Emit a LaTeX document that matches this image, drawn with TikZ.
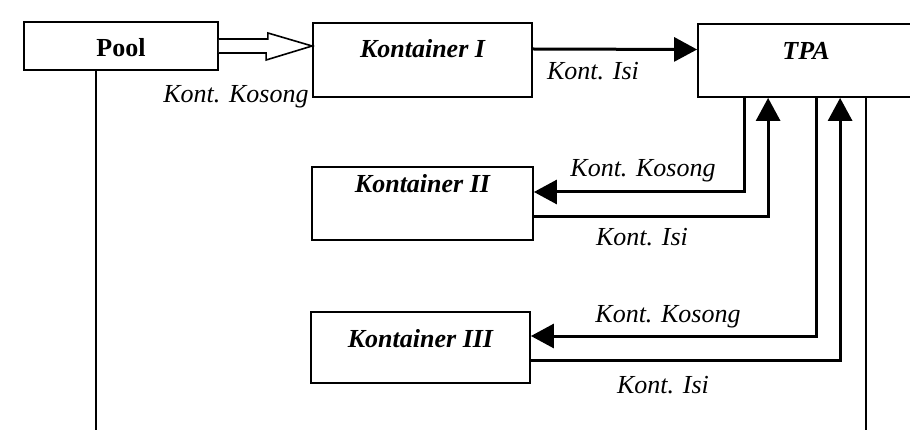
\documentclass[tikz,border=0pt]{standalone}
\usepackage{fontspec}
\setmainfont{Liberation Serif}
\usetikzlibrary{calc, arrows.meta}

\begin{document}
\begin{tikzpicture}[x=1pt, y=-1pt,
    box/.style={draw, line width=1.8pt, inner sep=0pt, font=\fontsize{26pt}{30pt}\selectfont\bfseries\itshape},
    flow/.style={line width=3pt, -{Triangle[length=23pt, width=24pt]}},
    wire/.style={line width=3pt},
    lbl/.style={anchor=base, inner sep=0pt, font=\fontsize{26pt}{30pt}\selectfont\itshape}]

    % Macros for the lines that leave the picture at the bottom
    \def\poolLineX{96} % X of the line under Pool
    \def\tpaLineX{866} % X of the line under TPA
    \def\pageBottom{430} % lower edge of the picture

  % Fix the frame of the picture
  \path[use as bounding box, clip] (0,0) rectangle (910,430);

  % Draw the boxes
  \node[box, font=\fontsize{26pt}{30pt}\selectfont\bfseries, minimum width=194pt, text height=35pt, text depth=13pt] (pool) at (121,46) {Pool};
  \node[box, minimum width=219pt, text height=35pt, text depth=39pt] (kont1) at (422.5,60) {Kontainer I};
  \node[box, minimum width=216pt, text height=36pt, text depth=37pt] (tpa) at (806,60.5) {TPA};
  \node[box, minimum width=221pt, text height=26pt, text depth=47pt] (kont2) at (422.5,203.5) {Kontainer II};
  \node[box, minimum width=219pt, text height=35pt, text depth=36pt] (kont3) at (420.5,347.5) {Kontainer III};

  % Hollow arrow from Pool to Kontainer I
  \draw[line width=1.6pt, fill=white] ([yshift=7pt]pool.east) -- ++(49,0) -- ++(0,-6)
      -- (kont1.west |- pool.east) -- ++(-46,14) -- ++(0,-7) -- ([yshift=-7pt]pool.east);
  \node[lbl] (kosong0) at (236,103) {Kont. Kosong};

  % Full container from Kontainer I to TPA
  \draw[flow] ([yshift=11pt]kont1.east) -- ([yshift=11pt]tpa.west);
  \node[lbl] (isi1) at (593,80) {Kont. Isi};

  % Exchange between TPA and Kontainer II
  \draw[flow] ([xshift=47pt]tpa.south west) |- ([yshift=11.5pt]kont2.east);
  \draw[flow] ([yshift=-13.5pt]kont2.east) -| ([xshift=71pt]tpa.south west);
  \node[lbl] (kosong2) at (643,177) {Kont. Kosong};
  \node[lbl] (isi2) at (642,246) {Kont. Isi};

  % Exchange between TPA and Kontainer III
  \draw[flow] ([xshift=119pt]tpa.south west) |- ([yshift=11.5pt]kont3.east);
  \draw[flow] ([yshift=-12.5pt]kont3.east) -| ([xshift=143pt]tpa.south west);
  \node[lbl] (kosong3) at (668,322) {Kont. Kosong};
  \node[lbl] (isi3) at (663,393) {Kont. Isi};

  % Lines going down out of the picture
  \coordinate (poolEnd) at (\poolLineX,\pageBottom);
  \coordinate (tpaEnd) at (\tpaLineX,\pageBottom);
  \draw[line width=2pt] (poolEnd |- pool.south) -- (poolEnd);
  \draw[line width=2pt] (tpaEnd |- tpa.south) -- (tpaEnd);

\end{tikzpicture}
\end{document}
